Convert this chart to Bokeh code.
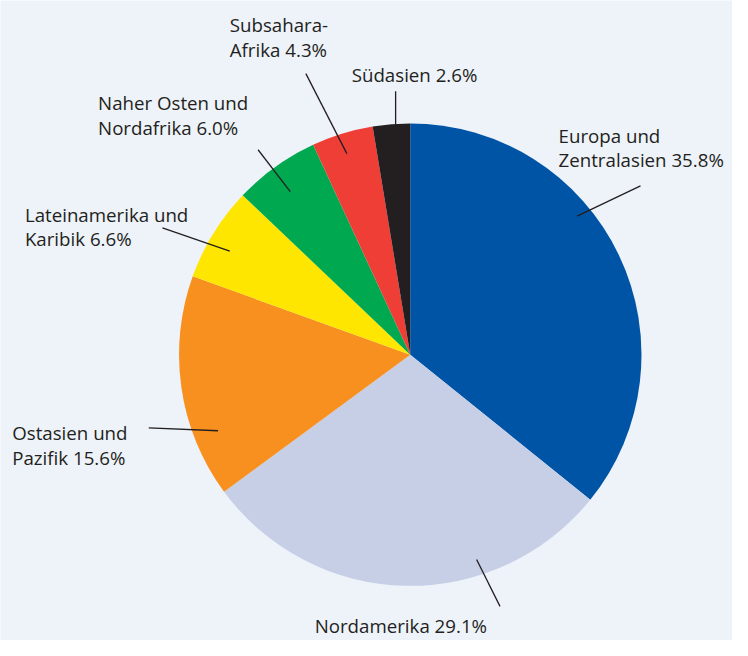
import numpy as np
from bokeh.plotting import figure
from bokeh.models import Range1d, ColumnDataSource
from bokeh.core.properties import value
from bokeh.embed import file_html
from bokeh.resources import INLINE

# ---- data ----
categories = ["Europa und Zentralasien", "Nordamerika", "Ostasien und Pazifik",
              "Lateinamerika und Karibik", "Naher Osten und Nordafrika",
              "Subsahara-Afrika", "Südasien"]
shares = [35.8, 29.1, 15.6, 6.6, 6.0, 4.3, 2.6]
colors = ["#0054a6", "#c7cfe7", "#f7901e", "#ffe600", "#00a94f", "#ef3e36", "#231f20"]
label_lines = [
    ["Europa und", "Zentralasien 35.8%"],
    ["Nordamerika 29.1%"],
    ["Ostasien und", "Pazifik 15.6%"],
    ["Lateinamerika und", "Karibik 6.6%"],
    ["Naher Osten und", "Nordafrika 6.0%"],
    ["Subsahara-", "Afrika 4.3%"],
    ["Südasien 2.6%"],
]

# ---- layout (reference pixel coordinates, y downward; label_pos = first-line baseline) ----
W, H = 732, 640
REF_W, REF_H = 748, 656
s = H / REF_H
BG = "#eef2f9"
TXT = "#231f20"
cx, cy, R = 420, 363, 237
label_pos = [(572, 145), (322, 648), (12, 450), (25, 226), (100, 112), (235, 32), (360, 83)]
leaders = [((591, 221), (656, 190)), ((488, 573), (512, 621)), ((223, 441), (152, 438)),
           ((235, 257), (166, 233)), ((297, 196), (264, 153)), ((355, 157), (313, 75)),
           ((405, 128), (405, 93))]
LINE_H = 25
MID_OFF = 7  # baseline -> visual middle of the line

def Y(py):
    return REF_H - py

p = figure(width=W, height=H, output_backend="svg", toolbar_location=None,
           x_range=Range1d(0, W / s), y_range=Range1d(0, REF_H),
           min_border=0, outline_line_color=None)
p.axis.visible = False
p.grid.visible = False
p.background_fill_color = BG
p.border_fill_color = BG

frac = np.array(shares) / sum(shares)
cum = np.concatenate([[0], np.cumsum(frac)[:-1]])
start = np.pi / 2 - cum * 2 * np.pi
end = start - frac * 2 * np.pi
src = ColumnDataSource(dict(start=start, end=end, color=colors, cat=categories))
p.wedge(x=cx, y=Y(cy), radius=R, start_angle="start", end_angle="end",
        direction="clock", fill_color="color", line_color=None, source=src)

for (a, b) in leaders:
    p.line([a[0], b[0]], [Y(a[1]), Y(b[1])], line_color=TXT, line_width=1.3)

xs, ys, ts = [], [], []
for (lx, ly), lines in zip(label_pos, label_lines):
    for i, t in enumerate(lines):
        xs.append(lx)
        ys.append(Y(ly + i * LINE_H - MID_OFF))
        ts.append(t)
p.text(x=xs, y=ys, text=ts, text_font=value("Open Sans"), text_font_size="18.7px",
       text_color=TXT, text_align="left", text_baseline="middle")

open("out.html", "w").write(file_html(p, INLINE))
